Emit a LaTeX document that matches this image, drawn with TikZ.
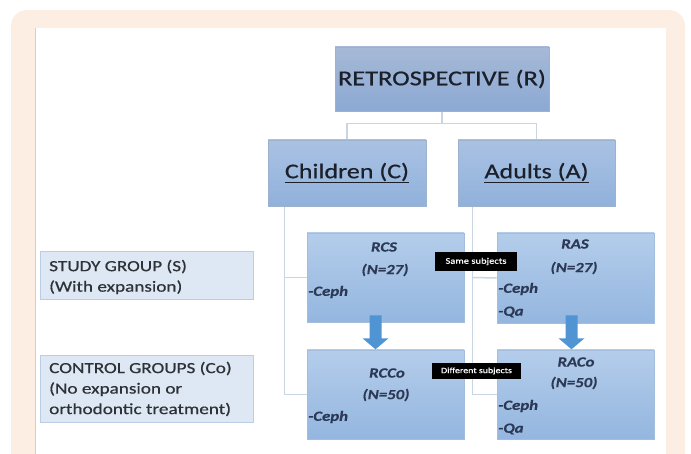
\documentclass[tikz,border=0pt]{standalone}
\usepackage{fontspec}
\setmainfont{Carlito}[FakeStretch=1.24]
\newfontfamily\dispfont{Carlito}[FakeStretch=1.24, FakeBold=0.6]
\newfontfamily\grpfont{Carlito}[FakeStretch=1.2, FakeBold=0.4]
\usetikzlibrary{calc}
\definecolor{peach}{HTML}{FCEEE3}
\definecolor{panelline}{HTML}{D9CCC2}
\definecolor{connc}{HTML}{C9D5E2}
\definecolor{rtop}{HTML}{A6B9D6}
\definecolor{rbot}{HTML}{8CA9D4}
\definecolor{rbord}{HTML}{9DB2CF}
\definecolor{ctop}{HTML}{A9C2E3}
\definecolor{cbot}{HTML}{91B1DB}
\definecolor{gtop}{HTML}{B4CDEB}
\definecolor{gbot}{HTML}{94B6DF}
\definecolor{gbord}{HTML}{A3BEDD}
\definecolor{lfill}{HTML}{DDE8F4}
\definecolor{lbord}{HTML}{B9CDE4}
\definecolor{arrowc}{HTML}{5094D3}
\definecolor{gtxt}{HTML}{2C3955}
\definecolor{mtxt}{HTML}{1A1F2A}
\definecolor{ltxt}{HTML}{2E3136}
\pgfdeclarelayer{bg}
\pgfdeclarelayer{lines}
\pgfsetlayers{bg,lines,main}
\begin{document}
\begin{tikzpicture}[x=1pt,y=-1pt,
  rbox/.style={draw=rbord, line width=0.6pt, top color=rtop, bottom color=rbot, inner sep=0pt, text=mtxt},
  cbox/.style={draw=rbord, line width=0.6pt, top color=ctop, bottom color=cbot, inner sep=0pt, text=mtxt},
  gbox/.style={draw=gbord, line width=0.6pt, top color=gtop, bottom color=gbot, inner sep=0pt, minimum width=157pt},
  lbox/.style={draw=lbord, line width=0.8pt, fill=lfill, inner sep=0pt, minimum width=213pt},
  ltext/.style={inner sep=0pt, align=left, anchor=west, text=ltxt, font=\dispfont\fontsize{15.5}{20.5}\selectfont},
  gtext/.style={inner sep=0pt, text=gtxt, font=\grpfont\bfseries\itshape\fontsize{14}{16}\selectfont},
  gitem/.style={gtext, anchor=west},
  blk/.style={fill=black, text=white, inner sep=0pt},
  conn/.style={draw=connc, line width=1.5pt},
  fatarrow/.style={fill=arrowc}
]
\useasboundingbox (0,0) rectangle (691,454);
\begin{pgfonlayer}{bg}
  \fill[peach, rounded corners=16pt] (11,10) rectangle (685,490);
  \fill[white] (35,28) rectangle (666,454);
  \draw[panelline, line width=1pt] (35,28) -- (35,454);
\end{pgfonlayer}

% top hierarchy
\node[rbox, minimum width=214pt, minimum height=64pt] (r) at (442,79) {\dispfont\fontsize{21.3}{24}\selectfont RETROSPECTIVE (R)};
\node[cbox, minimum width=158pt, minimum height=66pt] (child) at (347,173) {\dispfont\fontsize{21}{24}\selectfont\underline{Children (C)}};
\node[cbox, minimum width=157pt, minimum height=66pt] (adult) at (536.5,173) {\dispfont\fontsize{21}{24}\selectfont\underline{Adults (A)}};

% left labels
\node[lbox, minimum height=48pt] (study) at (146.5,275) {};
\node[ltext] (studyt) at (49,277) {STUDY GROUP (S)\\(With expansion)};
\node[lbox, minimum height=67pt] (control) at (146.5,388.5) {};
\node[ltext] (controlt) at (49,389) {CONTROL GROUPS (Co)\\(No expansion or\\orthodontic treatment)};

% group boxes
\node[gbox, minimum height=89pt] (rcs) at (385.5,277.5) {};
\node[gbox, minimum height=90pt] (ras) at (575.5,278) {};
\node[gbox, minimum height=89pt] (rcco) at (385.5,394.5) {};
\node[gbox, minimum height=89pt] (raco) at (575.5,394.5) {};

\node[gtext] (rcs1) at (384,247) {RCS};
\node[gtext] (rcs2) at (385,270) {(N=27)};
\node[gitem] (rcs3) at (308,292) {-Ceph};

\node[gtext] (ras1) at (575,244) {RAS};
\node[gtext] (ras2) at (574,268) {(N=27)};
\node[gitem] (ras3) at (498,289) {-Ceph};
\node[gitem] (ras4) at (498,312) {-Qa};

\node[gtext] (rcco1) at (387,373) {RCCo};
\node[gtext] (rcco2) at (386,395) {(N=50)};
\node[gitem] (rcco3) at (308,417) {-Ceph};

\node[gtext] (raco1) at (576,362) {RACo};
\node[gtext] (raco2) at (574,383) {(N=50)};
\node[gitem] (raco3) at (498,406) {-Ceph};
\node[gitem] (raco4) at (498,429) {-Qa};

% connectors
\begin{pgfonlayer}{lines}
  \draw[conn] (r.south) -- ++(0,12) coordinate (rj);
  \draw[conn] (rj) -| (child.north);
  \draw[conn] (rj) -| (adult.north);
  \coordinate (ct) at ($(child.south west)+(17,0)$);
  \draw[conn] (ct) |- (rcco.west);
  \draw[conn] (ct |- rcs.west) -- (rcs.west);
  \coordinate (at) at ($(adult.south west)+(15,0)$);
  \draw[conn] (at) |- (raco.west);
  \draw[conn] (at |- rcs.west) -- (ras.west);
\end{pgfonlayer}

% fat arrows
\coordinate (a1) at ($(rcs.south)+(-10,0)$);
\fill[fatarrow] ($(a1)+(-6,-7)$) -- ($(a1)+(6,-7)$) -- ($(a1)+(6,16)$) -- ($(a1)+(13,16)$) -- ($(a1)+(0,27)$) -- ($(a1)+(-13,16)$) -- ($(a1)+(-6,16)$) -- cycle;
\coordinate (a2) at ($(ras.south)+(-4,0)$);
\fill[fatarrow] ($(a2)+(-6,-8)$) -- ($(a2)+(6,-8)$) -- ($(a2)+(6,15)$) -- ($(a2)+(13,15)$) -- ($(a2)+(0,26)$) -- ($(a2)+(-13,15)$) -- ($(a2)+(-6,15)$) -- cycle;

% black labels
\node[blk, minimum width=82pt, minimum height=19pt] (same) at (476,261.5) {\dispfont\fontsize{8.5}{10}\selectfont Same subjects};
\node[blk, minimum width=89pt, minimum height=16pt] (diff) at (476.5,371) {\dispfont\fontsize{8}{10}\selectfont Different subjects};
\end{tikzpicture}
\end{document}
